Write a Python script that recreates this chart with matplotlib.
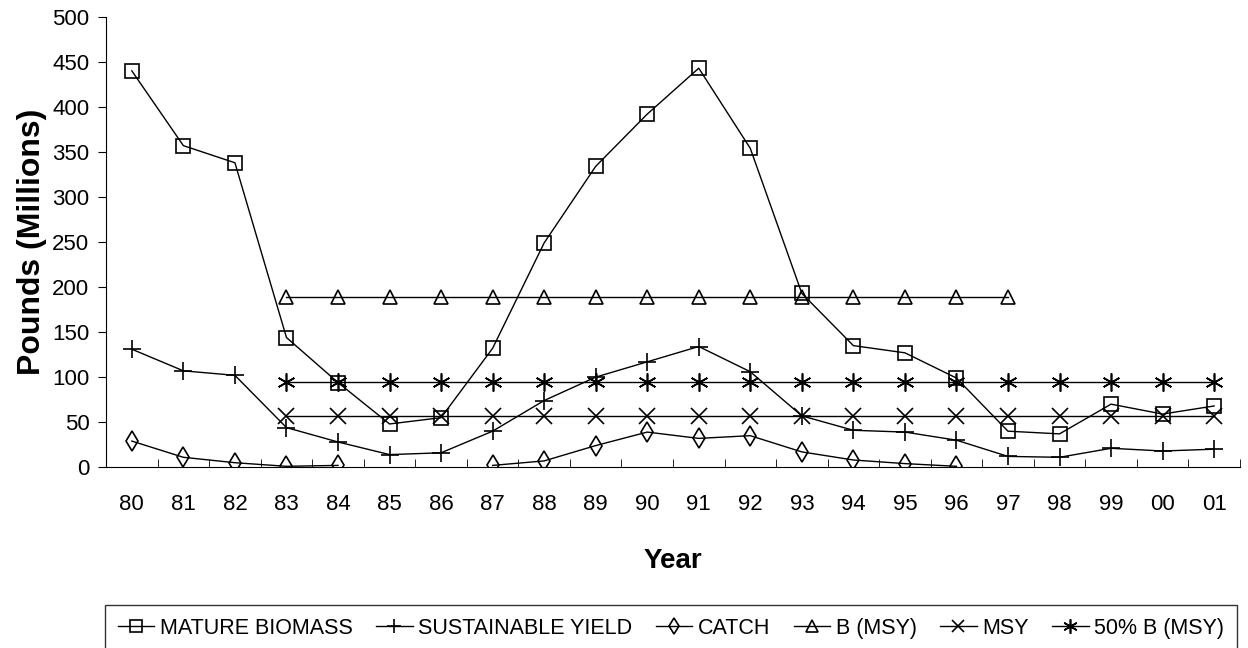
import numpy as np
import matplotlib.pyplot as plt
plt.rcParams['font.family'] = ['Liberation Sans', 'DejaVu Sans']

years = ['80', '81', '82', '83', '84', '85', '86', '87', '88', '89', '90',
         '91', '92', '93', '94', '95', '96', '97', '98', '99', '00', '01']
mature_biomass = [440, 357, 338, 144, 94, 48, 55, 132, 249, 334, 392,
                  443, 354, 193, 135, 127, 99, 40, 37, 70, 59, 68]
sustainable_yield = [131, 107, 102, 44, 28, 14, 16, 40, 74, 100, 117,
                     134, 106, 57, 41, 39, 30, 12, 11, 21, 18, 20]
catch = [29, 11, 5, 1, 2, np.nan, np.nan, 2, 7, 24, 39,
         32, 35, 17, 8, 4, 1, np.nan, np.nan, np.nan, np.nan, np.nan]
b_msy = [np.nan] * 3 + [189] * 15 + [np.nan] * 4
msy = [np.nan] * 3 + [57] * 19
half_b_msy = [np.nan] * 3 + [94.5] * 19

x = np.arange(len(years))

fig = plt.figure(figsize=(12.48, 6.48), dpi=100)
ax = fig.add_axes([0.085, 0.279, 0.9085, 0.695])

kw = dict(color='black', linewidth=1, markersize=10, markerfacecolor='none',
          markeredgecolor='black', markeredgewidth=1.2)
ax.plot(x, mature_biomass, marker='s', label='MATURE BIOMASS', **kw)
ax.plot(x, sustainable_yield, marker='+', label='SUSTAINABLE YIELD', **{**kw, 'markersize': 13})
ax.plot(x, catch, marker='d', label='CATCH', **kw)
ax.plot(x, b_msy, marker='^', label='B (MSY)', **kw)
ax.plot(x, msy, marker='x', label='MSY', **{**kw, 'markersize': 11})
ax.plot(x, half_b_msy, marker=(6, 2, 0), label='50% B (MSY)', **{**kw, 'markersize': 13})

ax.set_xlim(-0.5, len(years) - 0.5)
ax.set_ylim(0, 500)
ax.set_yticks(np.arange(0, 501, 50))
ax.set_xticks(x)
ax.set_xticklabels(years)
ax.set_xticks(np.arange(-0.5, len(years), 1), minor=True)
ax.tick_params(axis='x', which='major', length=0, pad=19, labelsize=16)
ax.tick_params(axis='x', which='minor', direction='in', length=6)
ax.tick_params(axis='y', direction='out', length=6, labelsize=16, pad=6)
ax.spines['top'].set_visible(False)
ax.spines['right'].set_visible(False)

ax.set_ylabel('Pounds (Millions)', fontsize=23, fontweight='bold', labelpad=4)
ax.set_xlabel('Year', fontsize=20, fontweight='bold', labelpad=24)

leg = fig.legend(loc='upper left', bbox_to_anchor=(0.0841, -0.06, 0.907, 0.1264),
                 mode='expand', borderaxespad=0, ncol=6, fontsize=15.5,
                 frameon=True, fancybox=False, handlelength=1.7, markerscale=0.8,
                 handletextpad=0.25, columnspacing=0.6, borderpad=0.6)
leg.get_frame().set_edgecolor('black')
leg.get_frame().set_linewidth(1)

fig.savefig('out.png', dpi=100)
